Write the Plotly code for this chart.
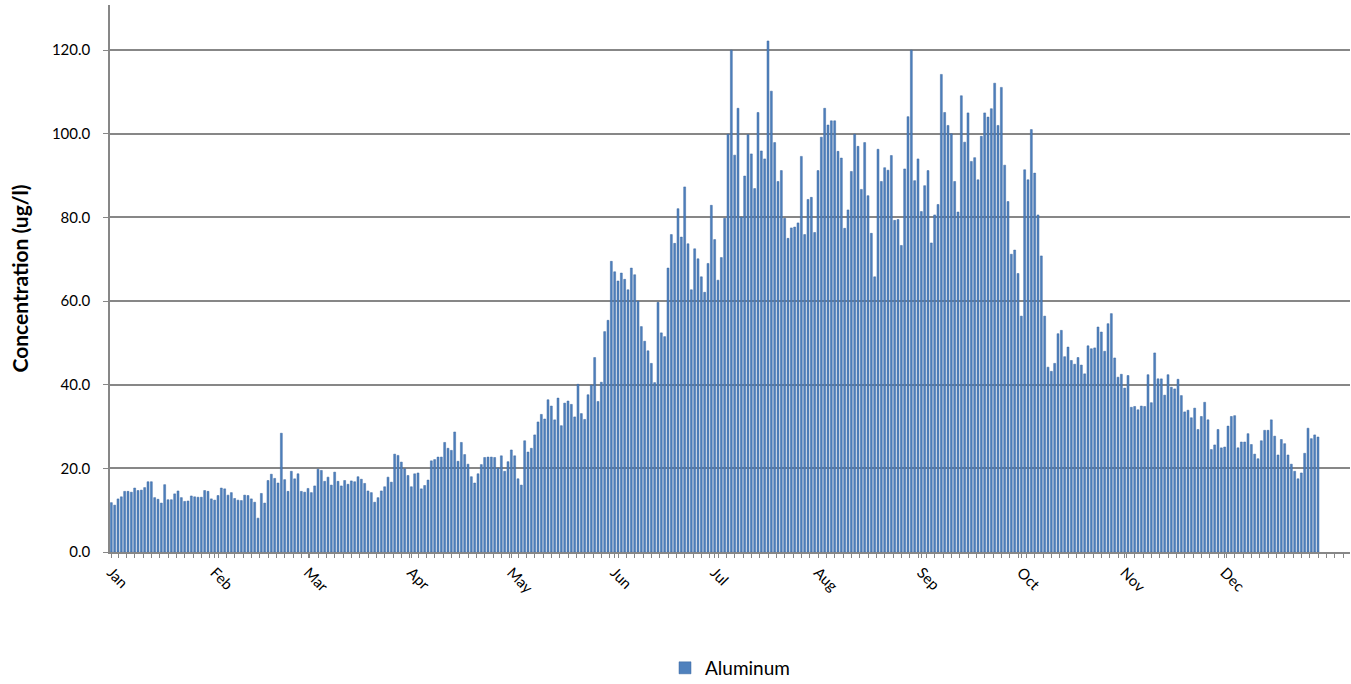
import plotly.graph_objects as go

# Daily aluminum concentration (ug/l)
jan_feb = [11.8, 11.2, 12.7, 13.2, 14.5, 14.5, 14.3, 15.3, 14.7, 14.8, 15.4, 16.8, 16.8, 13.0, 12.6, 11.7,
           16.1, 12.5, 12.5, 13.9, 14.6, 13.0, 12.1, 12.2, 13.4, 13.2, 13.1, 13.1, 14.7, 14.5, 12.7, 12.4, 13.5,
           15.3, 15.1, 13.6, 14.2, 12.8, 12.4, 12.3, 13.6, 13.5, 12.7, 11.9, 8.1, 14.0, 11.7, 17.1, 18.6, 17.6,
           16.5, 28.4, 17.3, 14.5, 19.3, 17.5, 18.7, 14.5, 14.3, 15.2, 14.2, 15.8, 19.8, 19.5]
mar_apr = [16.9, 17.9, 16.0, 19.1, 16.9, 15.8, 17.1, 16.2, 17.0, 16.8, 18.0, 17.4, 16.4, 14.6, 14.2, 11.9,
           13.0, 14.6, 15.6, 17.9, 16.7, 23.4, 23.1, 21.5, 19.9, 18.3, 15.6, 18.7, 18.9, 15.1, 15.9, 17.2, 21.8,
           22.1, 22.7, 22.7, 26.2, 24.8, 24.3, 28.7, 21.7, 26.2, 23.3, 21.0, 18.0, 16.5, 18.7, 20.9, 22.6, 22.7,
           22.7, 22.6, 20.1, 23.0, 19.3, 21.6, 24.4, 23.0, 17.5, 16.0, 26.6, 23.9, 24.8, 28.0, 31.1, 32.9, 31.8]
may_jun = [36.4, 34.9, 31.6, 36.8, 30.2, 35.6, 36.1, 35.3, 32.3, 40.1, 33.1, 31.7, 37.6, 39.9, 46.5, 36.0,
           40.6, 52.7, 55.4, 69.5, 67.0, 64.8, 66.7, 65.2, 62.7, 67.9, 66.3, 60.0, 53.9, 50.4, 48.1,
           45.1, 40.5, 59.7, 52.4, 51.5, 67.9, 75.9, 73.8, 82.1, 75.3, 87.3, 73.7, 62.7, 72.5, 70.1, 65.8, 62.1,
           69.0, 82.9, 74.7, 65.0, 70.4, 79.8, 99.9, 120.0, 94.9, 106.1, 80.1, 89.9, 99.8, 95.2, 86.9]
jul_aug = [105.1, 95.9, 94.0, 122.2, 110.2, 97.9, 88.6, 91.2, 79.8, 75.0, 77.5, 77.7, 78.7, 94.6, 75.9, 84.3,
           84.8, 76.4, 91.2, 99.2, 106.1, 102.1, 103.1, 103.1, 95.8, 94.2, 77.4, 81.8, 91.0, 99.9, 97.0,
           86.7, 97.9, 85.2, 76.2, 65.8, 96.3, 88.6, 91.9, 91.3, 94.8, 79.3, 79.5, 73.3, 91.6, 104.1, 120.0,
           88.8, 94.0, 81.4, 87.6, 91.2, 73.9, 80.6, 83.1, 114.2, 105.1, 102.0, 100.0, 88.6, 81.3, 109.1, 98.0]
sep_oct = [105.0, 93.4, 94.3, 89.0, 99.4, 105.0, 104.0, 106.0, 112.1, 102.0, 111.1, 92.5, 83.8, 71.2, 72.2,
           66.6, 56.4, 91.4, 89.0, 101.0, 90.6, 80.6, 70.8, 56.4, 44.2, 43.2, 45.1, 52.2, 53.0, 46.7, 49.0,
           45.8, 44.9, 46.5, 44.7, 42.6, 49.3, 48.6, 48.8, 53.8, 52.6, 48.0, 54.6, 57.0, 46.4, 41.8, 42.5]
nov_dec = [39.2, 42.2, 34.6, 34.8, 34.0, 34.9, 34.8, 42.4, 35.7, 47.6, 41.4, 41.4, 37.5, 42.4, 39.4, 39.0,
           41.3, 37.4, 33.5, 33.9, 32.1, 34.4, 29.3, 32.4, 35.8, 31.6, 24.5, 25.6, 29.3, 24.9, 25.1, 30.1,
           32.4, 32.6, 24.9, 26.3, 26.3, 28.3, 25.7, 23.4, 22.3, 26.6, 29.1, 29.1, 31.6, 27.7, 23.2, 26.9,
           25.9, 23.2, 21.0, 19.3, 17.5, 18.9, 23.6, 29.6, 27.1, 28.0, 27.5]

aluminum = jan_feb + mar_apr + may_jun + jul_aug + sep_oct + nov_dec
days = list(range(1, len(aluminum) + 1))

month_labels = ["Jan", "Feb", "Mar", "Apr", "May", "Jun", "Jul", "Aug", "Sep", "Oct", "Nov", "Dec"]
month_start_days = [1, 32, 60, 91, 121, 152, 182, 213, 244, 274, 305, 335]
y_ticks = [0, 20, 40, 60, 80, 100, 120]

FONT = "Lato, 'Open Sans', sans-serif"
GRID = "#878787"

fig = go.Figure()
fig.add_trace(go.Bar(
    x=days, y=aluminum, name="Aluminum",
    marker=dict(color="#4F81BD", line=dict(color="#3A66A0", width=0.5)),
    showlegend=True,
))

fig.update_layout(
    width=1351, height=684,
    margin=dict(l=110, r=1, t=5, b=132, autoexpand=False),
    paper_bgcolor="white", plot_bgcolor="white",
    bargap=0.42,
    font=dict(family=FONT, color="#000000"),
    showlegend=True,
    legend=dict(x=0.5, xanchor="center", y=-0.212, yanchor="middle",
                orientation="h", font=dict(size=19, family=FONT, color="#000000")),
    xaxis=dict(
        range=[0.6, 372.6], automargin=False,
        tickmode="array", tickvals=month_start_days, ticktext=month_labels,
        tickangle=45, tickfont=dict(size=15, family=FONT, color="#000000"),
        ticks="outside", ticklen=4, tickcolor=GRID,
        minor=dict(tickmode="linear", tick0=0.5, dtick=2.5, ticks="outside",
                   ticklen=4, tickcolor=GRID, showgrid=False),
        showline=True, linecolor=GRID, linewidth=2,
        showgrid=False, zeroline=False, ticklabelstandoff=0,
    ),
    yaxis=dict(
        range=[0, 130.8], automargin=False,
        tickmode="array", tickvals=y_ticks, tickformat=".1f",
        tickfont=dict(size=15, family=FONT, color="#000000"),
        ticks="outside", ticklen=5, tickcolor=GRID,
        showline=True, linecolor=GRID, linewidth=1.5,
        showgrid=True, gridcolor=GRID, gridwidth=1.5,
        zeroline=False, ticklabelstandoff=10,
        title=dict(text="<b>Concentration (ug/l)</b>", font=dict(size=21, family=FONT, color="#000000"),
                   standoff=18),
    ),
)

fig.write_html("out.html", config={"displayModeBar": False},
               post_script="document.body.style.margin='0';document.body.style.overflow='hidden';")
